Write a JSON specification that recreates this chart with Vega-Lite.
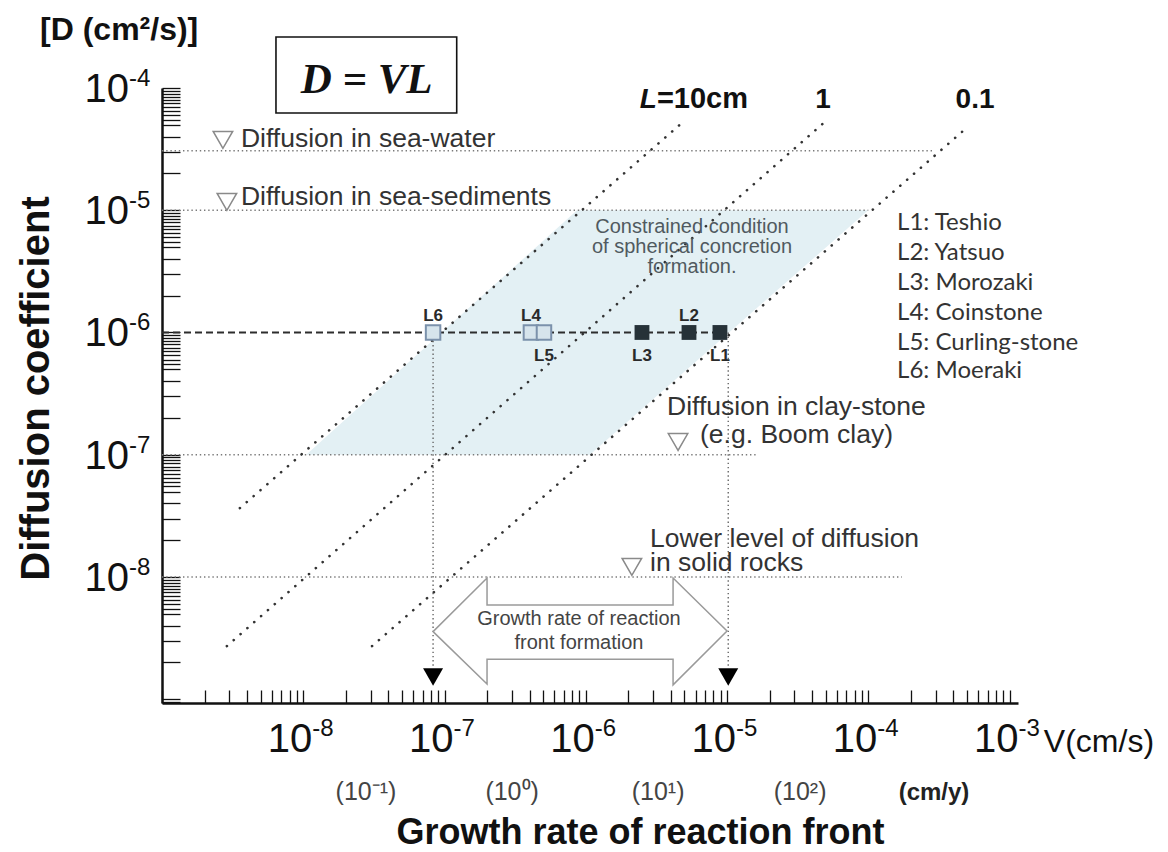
{
  "$schema": "https://vega.github.io/schema/vega-lite/v6.json",
  "width": 856,
  "height": 615,
  "autosize": "none",
  "padding": {"left": 162, "top": 88, "right": 150, "bottom": 149},
  "background": "white",
  "config": {
    "view": {"stroke": null},
    "font": "Liberation Sans",
    "text": {"font": "Liberation Sans"}
  },
  "datasets": {
    "region": [
      {"D": 1e-7, "Vlo": 1.05e-8, "Vhi": 1.07e-6},
      {"D": 1e-5, "Vlo": 8.67e-7, "Vhi": 1e-4}
    ],
    "hlines": [
      {"name": "sea-water", "V1": 1e-9, "V2": 2.87e-4, "D": 3.07e-5},
      {"name": "sea-sediments", "V1": 1e-9, "V2": 1e-4, "D": 1e-5},
      {"name": "clay-stone", "V1": 1e-9, "V2": 1.65e-5, "D": 1e-7},
      {"name": "solid rocks", "V1": 1e-9, "V2": 1.73e-4, "D": 1e-8}
    ],
    "diag": [
      {"L": "10", "V1": 3.56e-9, "D1": 3.66e-8, "V2": 4.88e-6, "D2": 5.27e-5},
      {"L": "1", "V1": 2.88e-9, "D1": 2.72e-9, "V2": 5.10e-5, "D2": 5.47e-5},
      {"L": "0.1", "V1": 3.07e-8, "D1": 2.72e-9, "V2": 4.77e-4, "D2": 4.53e-5}
    ],
    "vlines": [
      {"V": 8.3e-8, "D1": 1e-6, "D2": 1.8e-9},
      {"V": 1.02e-5, "D1": 1e-6, "D2": 1.8e-9}
    ],
    "dash": [{"V1": 1e-9, "V2": 8.91e-6, "D": 1e-6}],
    "sites": [
      {"id": "L6", "name": "Moeraki", "V": 8.3e-8, "D": 1e-6, "kind": "open"},
      {"id": "L4", "name": "Coinstone", "V": 4.09e-7, "D": 1e-6, "kind": "open"},
      {"id": "L5", "name": "Curling-stone", "V": 5.06e-7, "D": 1e-6, "kind": "open"},
      {"id": "L3", "name": "Morozaki", "V": 2.5e-6, "D": 1e-6, "kind": "filled"},
      {"id": "L2", "name": "Yatsuo", "V": 5.38e-6, "D": 1e-6, "kind": "filled"},
      {"id": "L1", "name": "Teshio", "V": 8.91e-6, "D": 1e-6, "kind": "filled"}
    ],
    "arrow": [
      {"i": 1, "V": 8.3e-8, "D": 3.57e-9},
      {"i": 2, "V": 2.0e-7, "D": 9.8e-9},
      {"i": 3, "V": 2.0e-7, "D": 5.9e-9},
      {"i": 4, "V": 4.15e-6, "D": 5.9e-9},
      {"i": 5, "V": 4.15e-6, "D": 9.8e-9},
      {"i": 6, "V": 1.0e-5, "D": 3.61e-9},
      {"i": 7, "V": 4.15e-6, "D": 1.31e-9},
      {"i": 8, "V": 4.15e-6, "D": 2.12e-9},
      {"i": 9, "V": 2.0e-7, "D": 2.12e-9},
      {"i": 10, "V": 2.0e-7, "D": 1.33e-9},
      {"i": 11, "V": 8.3e-8, "D": 3.57e-9}
    ],
    "triOpen": [
      {"level": "sea-water", "V": 2.70e-9, "D": 3.76e-5},
      {"level": "sea-sediments", "V": 2.88e-9, "D": 1.17e-5},
      {"level": "clay-stone", "V": 4.50e-6, "D": 1.27e-7},
      {"level": "solid rocks", "V": 2.12e-6, "D": 1.21e-8}
    ],
    "triBlack": [
      {"V": 8.3e-8, "D": 1.52e-9},
      {"V": 1.02e-5, "D": 1.52e-9}
    ],
    "notes": [
      {"text": "Diffusion in sea-water", "V": 3.62e-9, "D": 3.29e-5},
      {"text": "Diffusion in sea-sediments", "V": 3.62e-9, "D": 1.10e-5},
      {"text": "Diffusion in clay-stone", "V": 3.76e-6, "D": 2.11e-7},
      {"text": "(e.g. Boom clay)", "V": 6.44e-6, "D": 1.25e-7},
      {"text": "Lower level of diffusion", "V": 2.85e-6, "D": 1.76e-8},
      {"text": "in solid rocks", "V": 2.85e-6, "D": 1.12e-8}
    ],
    "regionNote": [
      {"text": "Constrained condition", "V": 5.65e-6, "D": 6.52e-6},
      {"text": "of spherical concretion", "V": 5.65e-6, "D": 4.47e-6},
      {"text": "formation.", "V": 5.65e-6, "D": 3.07e-6}
    ],
    "arrowNote": [
      {"text": "Growth rate of reaction", "V": 8.95e-7, "D": 4.05e-9},
      {"text": "front formation", "V": 8.95e-7, "D": 2.58e-9}
    ],
    "lineLabels": [
      {"text": "1", "V": 4.79e-5, "D": 6.86e-5},
      {"text": "0.1", "V": 5.70e-4, "D": 6.86e-5}
    ],
    "lineLabel10": [{"L": "L", "rest": "=10cm", "V": 3.19e-6, "D": 6.86e-5}],
    "legend": [
      {"text": "L1: Teshio", "V": 1.60e-4, "D": 6.89e-6},
      {"text": "L2: Yatsuo", "V": 1.60e-4, "D": 3.92e-6},
      {"text": "L3: Morozaki", "V": 1.60e-4, "D": 2.23e-6},
      {"text": "L4: Coinstone", "V": 1.60e-4, "D": 1.27e-6},
      {"text": "L5: Curling-stone", "V": 1.60e-4, "D": 7.19e-7},
      {"text": "L6: Moeraki", "V": 1.60e-4, "D": 4.25e-7}
    ],
    "box": [{"V1": 6.41e-9, "V2": 1.22e-7, "D1": 2.61e-4, "D2": 6.24e-5}],
    "formula": [{"text": "D = VL", "V": 2.81e-8, "D": 9.10e-5}],
    "unitY": [{"text": "[D (cm²/s)]", "V": 1.37e-10, "D": 2.47e-4}],
    "unitX": [{"text": "V(cm/s)", "V": 1.75e-3, "D": 3.70e-10}],
    "xTicks": [
      {"V": 1e-8, "exp": "-8"},
      {"V": 1e-7, "exp": "-7"},
      {"V": 1e-6, "exp": "-6"},
      {"V": 1e-5, "exp": "-5"},
      {"V": 1e-4, "exp": "-4"},
      {"V": 1e-3, "exp": "-3"}
    ],
    "yTicks": [
      {"D": 1e-4, "exp": "-4"},
      {"D": 1e-5, "exp": "-5"},
      {"D": 1e-6, "exp": "-6"},
      {"D": 1e-7, "exp": "-7"},
      {"D": 1e-8, "exp": "-8"}
    ],
    "cmy": [
      {"text": "(10⁻¹)", "V": 2.78e-8},
      {"text": "(10⁰)", "V": 3.01e-7},
      {"text": "(10¹)", "V": 3.25e-6},
      {"text": "(10²)", "V": 3.29e-5}
    ],
    "cmyUnit": [{"text": "(cm/y)", "V": 2.92e-4}]
  },
  "layer": [
    {
      "data": {"name": "region"},
      "mark": {"type": "area", "orient": "horizontal", "color": "#e3f0f4", "opacity": 1},
      "encoding": {
        "y": {
          "field": "D", "type": "quantitative",
          "scale": {"type": "log", "domain": [9.31e-10, 1e-4], "nice": false},
          "axis": {
            "title": "Diffusion coefficient",
            "labels": false, "grid": false,
            "values": [9.5e-10,1e-9,2e-9,3e-9,4e-9,5e-9,5.5e-9,6e-9,6.5e-9,7e-9,7.5e-9,8e-9,8.5e-9,9e-9,9.5e-9,1e-8,2e-8,3e-8,4e-8,5e-8,5.5e-8,6e-8,6.5e-8,7e-8,7.5e-8,8e-8,8.5e-8,9e-8,9.5e-8,1e-7,2e-7,3e-7,4e-7,5e-7,5.5e-7,6e-7,6.5e-7,7e-7,7.5e-7,8e-7,8.5e-7,9e-7,9.5e-7,1e-6,2e-6,3e-6,4e-6,5e-6,5.5e-6,6e-6,6.5e-6,7e-6,7.5e-6,8e-6,8.5e-6,9e-6,9.5e-6,1e-5,2e-5,3e-5,4e-5,5e-5,5.5e-5,6e-5,6.5e-5,7e-5,7.5e-5,8e-5,8.5e-5,9e-5,9.5e-5,1e-4],
            "tickSize": -18, "tickWidth": 1.3, "tickColor": "#111",
            "domainColor": "#111", "domainWidth": 2.5,
            "titleFont": "Liberation Sans", "titleFontSize": 40, "titleFontWeight": "bold", "titleColor": "#111",
            "titleAngle": -90, "titleX": -114, "titleY": 300, "titleAlign": "center", "titleBaseline": "alphabetic"
          }
        },
        "x": {
          "field": "Vlo", "type": "quantitative",
          "scale": {"type": "log", "domain": [1e-9, 1.148e-3], "nice": false},
          "axis": {
            "title": "Growth rate of reaction front",
            "labels": false, "grid": false,
            "values": [1e-9,2e-9,3e-9,4e-9,5e-9,6e-9,7e-9,8e-9,9e-9,1e-8,2e-8,3e-8,4e-8,5e-8,6e-8,7e-8,8e-8,9e-8,1e-7,2e-7,3e-7,4e-7,5e-7,6e-7,7e-7,8e-7,9e-7,1e-6,2e-6,3e-6,4e-6,5e-6,6e-6,7e-6,8e-6,9e-6,1e-5,2e-5,3e-5,4e-5,5e-5,6e-5,7e-5,8e-5,9e-5,1e-4,2e-4,3e-4,4e-4,5e-4,6e-4,7e-4,8e-4,9e-4,1e-3],
            "tickSize": -13, "tickWidth": 1.3, "tickColor": "#111",
            "domainColor": "#111", "domainWidth": 2.5,
            "titleFont": "Liberation Sans", "titleFontSize": 36, "titleFontWeight": "bold", "titleColor": "#111",
            "titleX": 478, "titleY": 140, "titleAlign": "center", "titleBaseline": "alphabetic"
          }
        },
        "x2": {"field": "Vhi"}
      }
    },
    {
      "data": {"name": "hlines"},
      "mark": {"type": "rule", "color": "#7a7a7a", "strokeWidth": 1.4, "strokeDash": [1.4, 2.8]},
      "encoding": {
        "x": {"field": "V1", "type": "quantitative", "scale": {"type": "log", "domain": [1e-9, 1.148e-3], "nice": false}},
        "x2": {"field": "V2"},
        "y": {"field": "D", "type": "quantitative", "scale": {"type": "log", "domain": [9.31e-10, 1e-4], "nice": false}}
      }
    },
    {
      "data": {"name": "diag"},
      "mark": {"type": "rule", "color": "#333333", "strokeWidth": 2.6, "strokeDash": [0.1, 9], "strokeCap": "round"},
      "encoding": {
        "x": {"field": "V1", "type": "quantitative", "scale": {"type": "log", "domain": [1e-9, 1.148e-3], "nice": false}},
        "x2": {"field": "V2"},
        "y": {"field": "D1", "type": "quantitative", "scale": {"type": "log", "domain": [9.31e-10, 1e-4], "nice": false}},
        "y2": {"field": "D2"}
      }
    },
    {
      "data": {"name": "vlines"},
      "mark": {"type": "rule", "color": "#666666", "strokeWidth": 1.4, "strokeDash": [1.4, 2.8]},
      "encoding": {
        "x": {"field": "V", "type": "quantitative", "scale": {"type": "log", "domain": [1e-9, 1.148e-3], "nice": false}},
        "y": {"field": "D1", "type": "quantitative", "scale": {"type": "log", "domain": [9.31e-10, 1e-4], "nice": false}},
        "y2": {"field": "D2"}
      }
    },
    {
      "data": {"name": "dash"},
      "mark": {"type": "rule", "color": "#2d2d2d", "strokeWidth": 2.2, "strokeDash": [7, 4]},
      "encoding": {
        "x": {"field": "V1", "type": "quantitative", "scale": {"type": "log", "domain": [1e-9, 1.148e-3], "nice": false}},
        "x2": {"field": "V2"},
        "y": {"field": "D", "type": "quantitative", "scale": {"type": "log", "domain": [9.31e-10, 1e-4], "nice": false}}
      }
    },
    {
      "data": {"name": "arrow"},
      "mark": {"type": "line", "color": "#9a9a9a", "strokeWidth": 1.5},
      "encoding": {
        "x": {"field": "V", "type": "quantitative", "scale": {"type": "log", "domain": [1e-9, 1.148e-3], "nice": false}},
        "y": {"field": "D", "type": "quantitative", "scale": {"type": "log", "domain": [9.31e-10, 1e-4], "nice": false}},
        "order": {"field": "i", "type": "quantitative"}
      }
    },
    {
      "data": {"name": "sites"},
      "transform": [{"filter": "datum.kind == 'open'"}],
      "mark": {"type": "point", "shape": "square", "size": 210, "filled": true, "color": "#d6e4ec", "stroke": "#7b91ab", "strokeWidth": 2, "opacity": 1},
      "encoding": {
        "x": {"field": "V", "type": "quantitative", "scale": {"type": "log", "domain": [1e-9, 1.148e-3], "nice": false}},
        "y": {"field": "D", "type": "quantitative", "scale": {"type": "log", "domain": [9.31e-10, 1e-4], "nice": false}}
      }
    },
    {
      "data": {"name": "sites"},
      "transform": [{"filter": "datum.kind == 'filled'"}],
      "mark": {"type": "point", "shape": "square", "size": 220, "filled": true, "color": "#263238", "opacity": 1},
      "encoding": {
        "x": {"field": "V", "type": "quantitative", "scale": {"type": "log", "domain": [1e-9, 1.148e-3], "nice": false}},
        "y": {"field": "D", "type": "quantitative", "scale": {"type": "log", "domain": [9.31e-10, 1e-4], "nice": false}}
      }
    },
    {
      "data": {"name": "sites"},
      "transform": [{"filter": "indexof(['L6','L4','L2'], datum.id) >= 0"}],
      "mark": {"type": "text", "fontSize": 17, "fontWeight": "bold", "color": "#2a2a2a", "align": "center", "baseline": "alphabetic", "dy": -11},
      "encoding": {
        "x": {"field": "V", "type": "quantitative", "scale": {"type": "log", "domain": [1e-9, 1.148e-3], "nice": false}},
        "y": {"field": "D", "type": "quantitative", "scale": {"type": "log", "domain": [9.31e-10, 1e-4], "nice": false}},
        "text": {"field": "id"}
      }
    },
    {
      "data": {"name": "sites"},
      "transform": [{"filter": "indexof(['L5','L3','L1'], datum.id) >= 0"}],
      "mark": {"type": "text", "fontSize": 17, "fontWeight": "bold", "color": "#2a2a2a", "align": "center", "baseline": "alphabetic", "dy": 29},
      "encoding": {
        "x": {"field": "V", "type": "quantitative", "scale": {"type": "log", "domain": [1e-9, 1.148e-3], "nice": false}},
        "y": {"field": "D", "type": "quantitative", "scale": {"type": "log", "domain": [9.31e-10, 1e-4], "nice": false}},
        "text": {"field": "id"}
      }
    },
    {
      "data": {"name": "triOpen"},
      "mark": {"type": "point", "shape": "triangle-down", "size": 380, "filled": true, "color": "white", "stroke": "#8a8a8a", "strokeWidth": 1.5, "opacity": 1},
      "encoding": {
        "x": {"field": "V", "type": "quantitative", "scale": {"type": "log", "domain": [1e-9, 1.148e-3], "nice": false}},
        "y": {"field": "D", "type": "quantitative", "scale": {"type": "log", "domain": [9.31e-10, 1e-4], "nice": false}}
      }
    },
    {
      "data": {"name": "triBlack"},
      "mark": {"type": "point", "shape": "triangle-down", "size": 400, "filled": true, "color": "#000000", "opacity": 1},
      "encoding": {
        "x": {"field": "V", "type": "quantitative", "scale": {"type": "log", "domain": [1e-9, 1.148e-3], "nice": false}},
        "y": {"field": "D", "type": "quantitative", "scale": {"type": "log", "domain": [9.31e-10, 1e-4], "nice": false}}
      }
    },
    {
      "data": {"name": "notes"},
      "mark": {"type": "text", "fontSize": 26.5, "color": "#333333", "align": "left", "baseline": "alphabetic"},
      "encoding": {
        "x": {"field": "V", "type": "quantitative", "scale": {"type": "log", "domain": [1e-9, 1.148e-3], "nice": false}},
        "y": {"field": "D", "type": "quantitative", "scale": {"type": "log", "domain": [9.31e-10, 1e-4], "nice": false}},
        "text": {"field": "text"}
      }
    },
    {
      "data": {"name": "regionNote"},
      "mark": {"type": "text", "fontSize": 20, "color": "#505a60", "align": "center", "baseline": "alphabetic"},
      "encoding": {
        "x": {"field": "V", "type": "quantitative", "scale": {"type": "log", "domain": [1e-9, 1.148e-3], "nice": false}},
        "y": {"field": "D", "type": "quantitative", "scale": {"type": "log", "domain": [9.31e-10, 1e-4], "nice": false}},
        "text": {"field": "text"}
      }
    },
    {
      "data": {"name": "arrowNote"},
      "mark": {"type": "text", "fontSize": 20, "color": "#444444", "align": "center", "baseline": "alphabetic"},
      "encoding": {
        "x": {"field": "V", "type": "quantitative", "scale": {"type": "log", "domain": [1e-9, 1.148e-3], "nice": false}},
        "y": {"field": "D", "type": "quantitative", "scale": {"type": "log", "domain": [9.31e-10, 1e-4], "nice": false}},
        "text": {"field": "text"}
      }
    },
    {
      "data": {"name": "lineLabels"},
      "mark": {"type": "text", "fontSize": 28, "fontWeight": "bold", "color": "#111111", "align": "center", "baseline": "alphabetic"},
      "encoding": {
        "x": {"field": "V", "type": "quantitative", "scale": {"type": "log", "domain": [1e-9, 1.148e-3], "nice": false}},
        "y": {"field": "D", "type": "quantitative", "scale": {"type": "log", "domain": [9.31e-10, 1e-4], "nice": false}},
        "text": {"field": "text"}
      }
    },
    {
      "data": {"name": "lineLabel10"},
      "mark": {"type": "text", "fontSize": 28, "fontWeight": "bold", "fontStyle": "italic", "color": "#111111", "align": "right", "baseline": "alphabetic"},
      "encoding": {
        "x": {"field": "V", "type": "quantitative", "scale": {"type": "log", "domain": [1e-9, 1.148e-3], "nice": false}},
        "y": {"field": "D", "type": "quantitative", "scale": {"type": "log", "domain": [9.31e-10, 1e-4], "nice": false}},
        "text": {"field": "L"}
      }
    },
    {
      "data": {"name": "lineLabel10"},
      "mark": {"type": "text", "fontSize": 29, "fontWeight": "bold", "color": "#111111", "align": "left", "baseline": "alphabetic"},
      "encoding": {
        "x": {"field": "V", "type": "quantitative", "scale": {"type": "log", "domain": [1e-9, 1.148e-3], "nice": false}},
        "y": {"field": "D", "type": "quantitative", "scale": {"type": "log", "domain": [9.31e-10, 1e-4], "nice": false}},
        "text": {"field": "rest"}
      }
    },
    {
      "data": {"name": "legend"},
      "mark": {"type": "text", "font": "Lato", "fontSize": 24, "color": "#333333", "align": "left", "baseline": "alphabetic"},
      "encoding": {
        "x": {"field": "V", "type": "quantitative", "scale": {"type": "log", "domain": [1e-9, 1.148e-3], "nice": false}},
        "y": {"field": "D", "type": "quantitative", "scale": {"type": "log", "domain": [9.31e-10, 1e-4], "nice": false}},
        "text": {"field": "text"}
      }
    },
    {
      "data": {"name": "box"},
      "mark": {"type": "rect", "fill": "white", "stroke": "#111111", "strokeWidth": 1.6},
      "encoding": {
        "x": {"field": "V1", "type": "quantitative", "scale": {"type": "log", "domain": [1e-9, 1.148e-3], "nice": false}},
        "x2": {"field": "V2"},
        "y": {"field": "D1", "type": "quantitative", "scale": {"type": "log", "domain": [9.31e-10, 1e-4], "nice": false}},
        "y2": {"field": "D2"}
      }
    },
    {
      "data": {"name": "formula"},
      "mark": {"type": "text", "font": "Liberation Serif", "fontSize": 43, "fontWeight": "bold", "fontStyle": "italic", "color": "#111111", "align": "center", "baseline": "alphabetic"},
      "encoding": {
        "x": {"field": "V", "type": "quantitative", "scale": {"type": "log", "domain": [1e-9, 1.148e-3], "nice": false}},
        "y": {"field": "D", "type": "quantitative", "scale": {"type": "log", "domain": [9.31e-10, 1e-4], "nice": false}},
        "text": {"field": "text"}
      }
    },
    {
      "data": {"name": "unitY"},
      "mark": {"type": "text", "fontSize": 32, "fontWeight": "bold", "color": "#111111", "align": "left", "baseline": "alphabetic"},
      "encoding": {
        "x": {"field": "V", "type": "quantitative", "scale": {"type": "log", "domain": [1e-9, 1.148e-3], "nice": false}},
        "y": {"field": "D", "type": "quantitative", "scale": {"type": "log", "domain": [9.31e-10, 1e-4], "nice": false}},
        "text": {"field": "text"}
      }
    },
    {
      "data": {"name": "unitX"},
      "mark": {"type": "text", "fontSize": 32, "color": "#111111", "align": "left", "baseline": "alphabetic"},
      "encoding": {
        "x": {"field": "V", "type": "quantitative", "scale": {"type": "log", "domain": [1e-9, 1.148e-3], "nice": false}},
        "y": {"field": "D", "type": "quantitative", "scale": {"type": "log", "domain": [9.31e-10, 1e-4], "nice": false}},
        "text": {"field": "text"}
      }
    },
    {
      "data": {"name": "xTicks"},
      "mark": {"type": "text", "fontSize": 40, "color": "#111111", "align": "right", "baseline": "alphabetic", "dx": 9},
      "encoding": {
        "x": {"field": "V", "type": "quantitative", "scale": {"type": "log", "domain": [1e-9, 1.148e-3], "nice": false}},
        "y": {"datum": 3.7e-10, "type": "quantitative", "scale": {"type": "log", "domain": [9.31e-10, 1e-4], "nice": false}},
        "text": {"value": "10"}
      }
    },
    {
      "data": {"name": "xTicks"},
      "mark": {"type": "text", "fontSize": 24, "color": "#111111", "align": "left", "baseline": "alphabetic", "dx": 9, "dy": -16},
      "encoding": {
        "x": {"field": "V", "type": "quantitative", "scale": {"type": "log", "domain": [1e-9, 1.148e-3], "nice": false}},
        "y": {"datum": 3.7e-10, "type": "quantitative", "scale": {"type": "log", "domain": [9.31e-10, 1e-4], "nice": false}},
        "text": {"field": "exp"}
      }
    },
    {
      "data": {"name": "yTicks"},
      "mark": {"type": "text", "fontSize": 40, "color": "#111111", "align": "right", "baseline": "alphabetic", "dy": 14},
      "encoding": {
        "x": {"datum": 5.84e-10, "type": "quantitative", "scale": {"type": "log", "domain": [1e-9, 1.148e-3], "nice": false}},
        "y": {"field": "D", "type": "quantitative", "scale": {"type": "log", "domain": [9.31e-10, 1e-4], "nice": false}},
        "text": {"value": "10"}
      }
    },
    {
      "data": {"name": "yTicks"},
      "mark": {"type": "text", "fontSize": 24, "color": "#111111", "align": "left", "baseline": "alphabetic", "dy": -2},
      "encoding": {
        "x": {"datum": 5.84e-10, "type": "quantitative", "scale": {"type": "log", "domain": [1e-9, 1.148e-3], "nice": false}},
        "y": {"field": "D", "type": "quantitative", "scale": {"type": "log", "domain": [9.31e-10, 1e-4], "nice": false}},
        "text": {"field": "exp"}
      }
    },
    {
      "data": {"name": "cmy"},
      "mark": {"type": "text", "fontSize": 25, "color": "#444444", "align": "center", "baseline": "alphabetic"},
      "encoding": {
        "x": {"field": "V", "type": "quantitative", "scale": {"type": "log", "domain": [1e-9, 1.148e-3], "nice": false}},
        "y": {"datum": 1.5e-10, "type": "quantitative", "scale": {"type": "log", "domain": [9.31e-10, 1e-4], "nice": false}},
        "text": {"field": "text"}
      }
    },
    {
      "data": {"name": "cmyUnit"},
      "mark": {"type": "text", "fontSize": 24, "fontWeight": "bold", "color": "#222222", "align": "center", "baseline": "alphabetic"},
      "encoding": {
        "x": {"field": "V", "type": "quantitative", "scale": {"type": "log", "domain": [1e-9, 1.148e-3], "nice": false}},
        "y": {"datum": 1.5e-10, "type": "quantitative", "scale": {"type": "log", "domain": [9.31e-10, 1e-4], "nice": false}},
        "text": {"field": "text"}
      }
    }
  ]
}
